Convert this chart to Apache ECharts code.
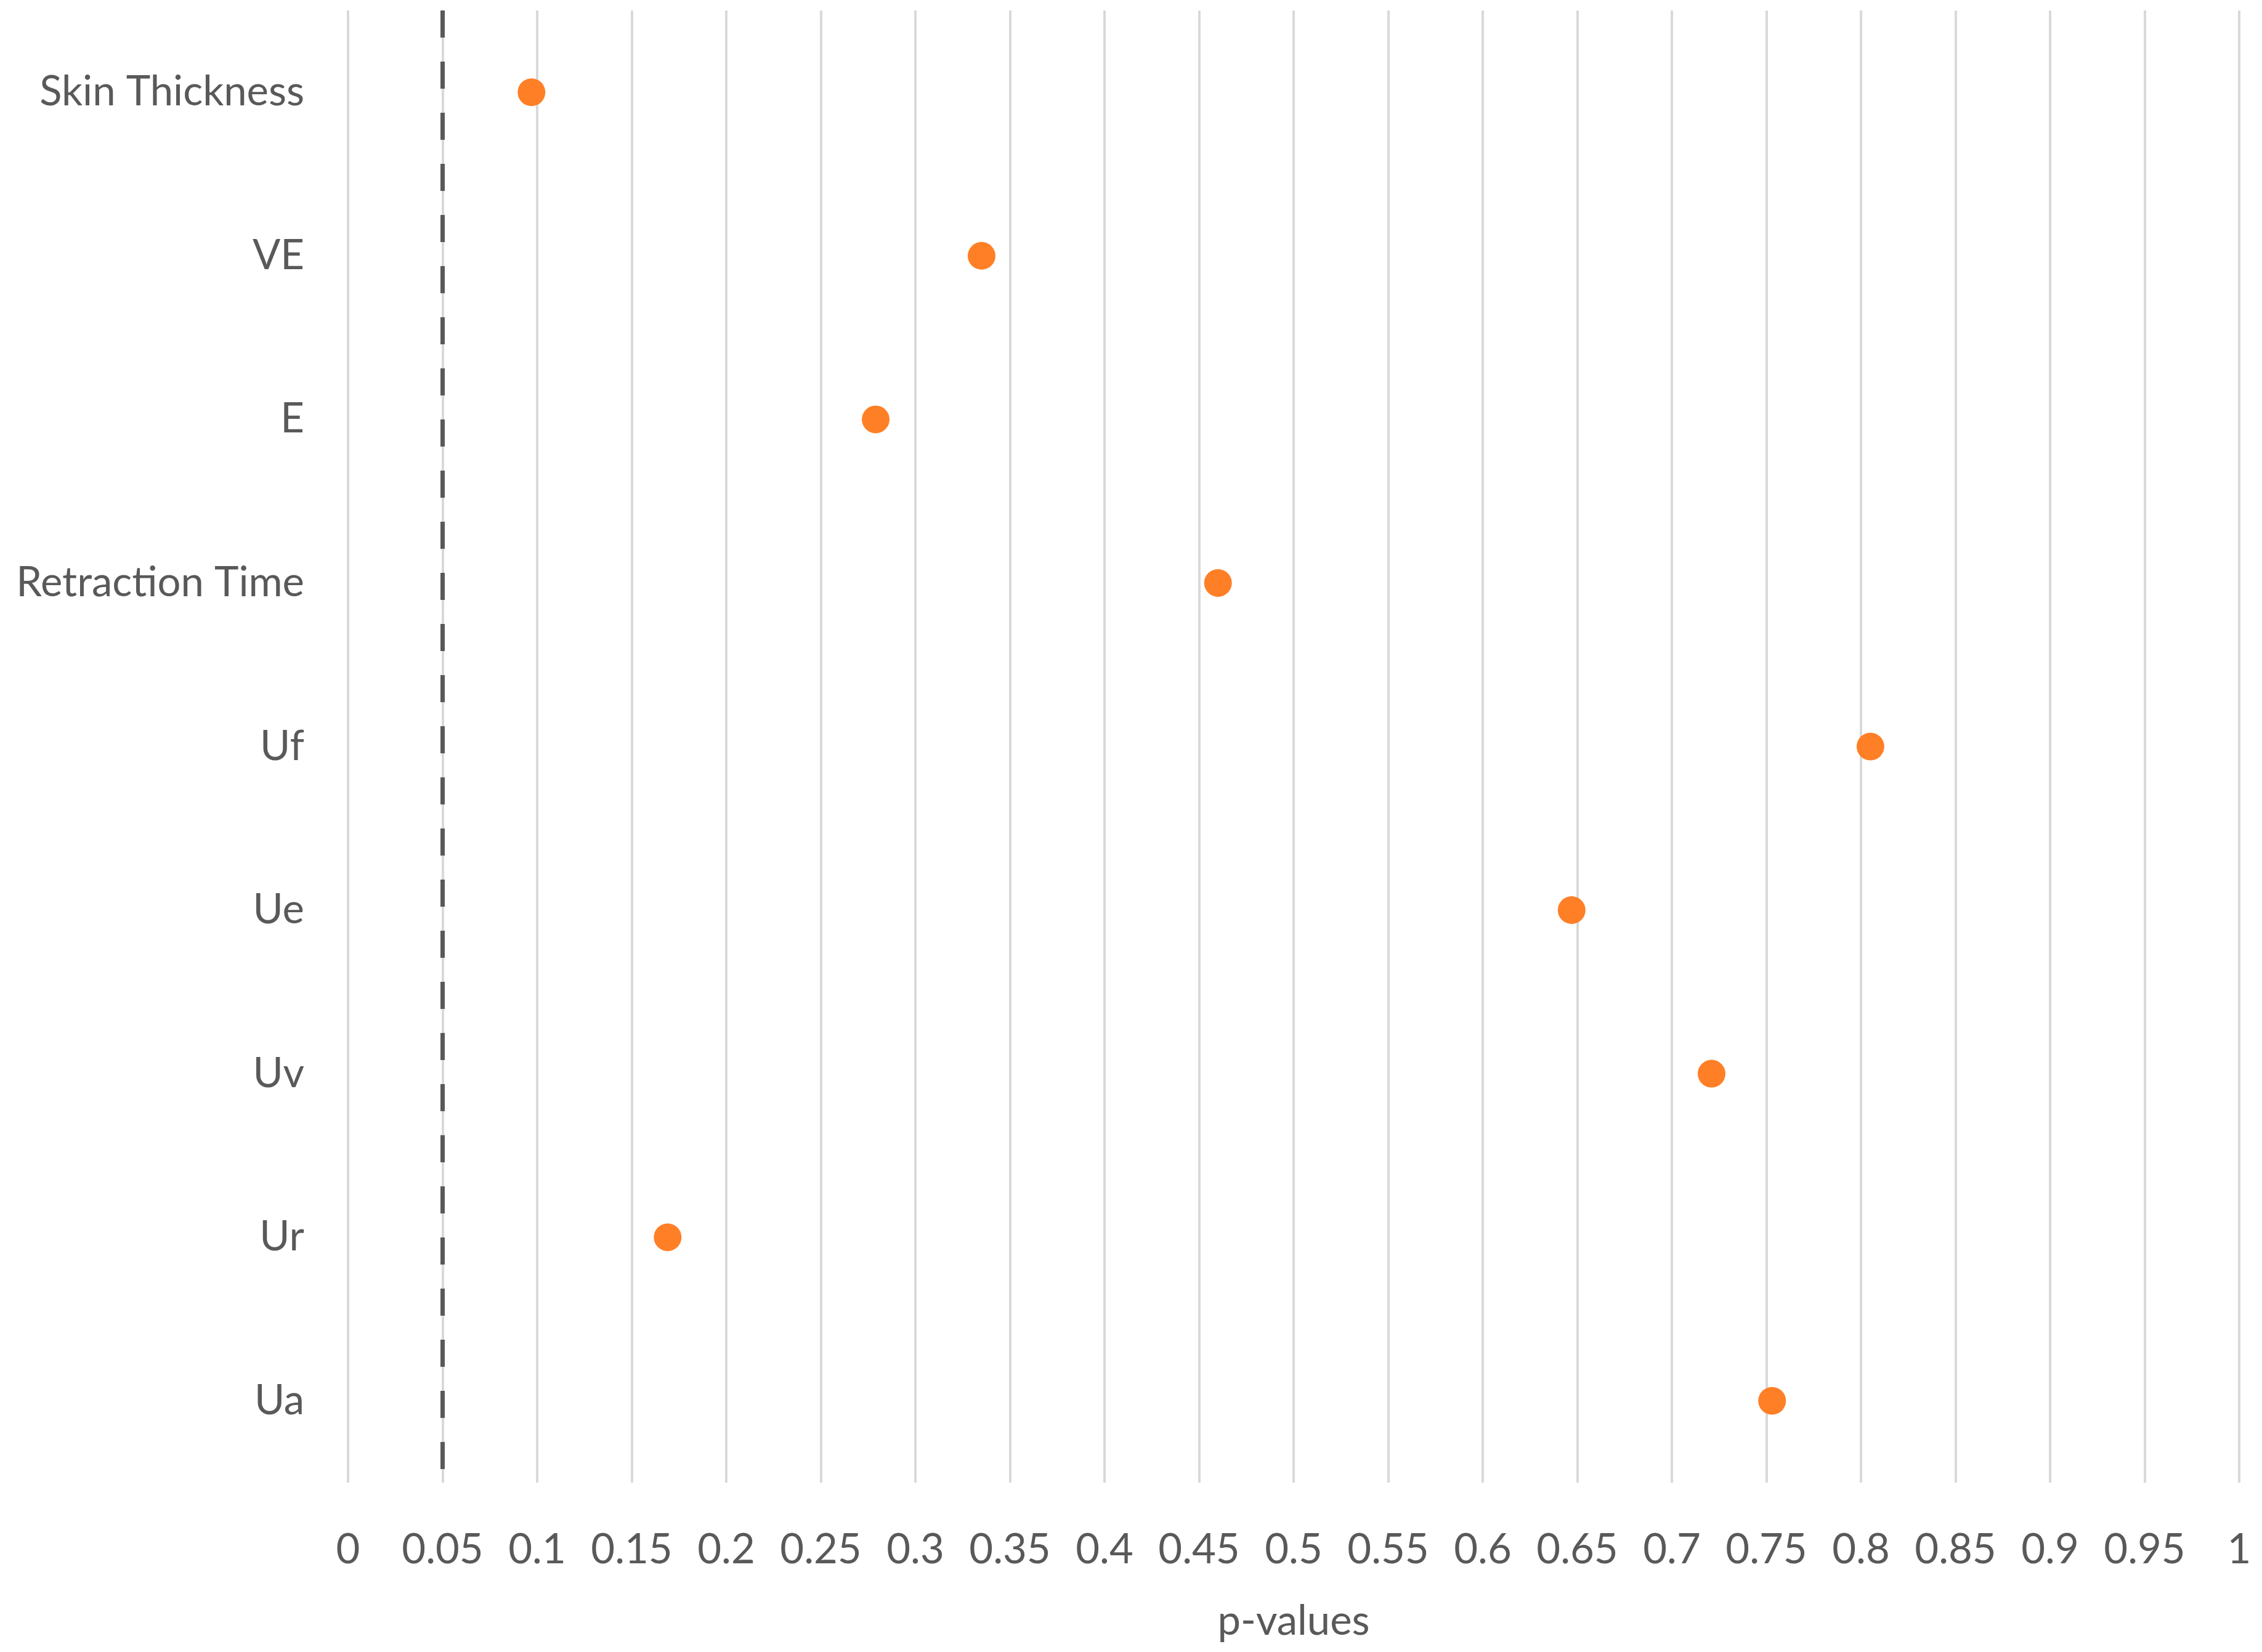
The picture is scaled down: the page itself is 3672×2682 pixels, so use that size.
<!DOCTYPE html>
<html lang="en">

<head>
    <meta charset="UTF-8">
    <title>p-values</title>
    <script type="text/javascript" src="https://cdn.jsdelivr.net/npm/echarts@6/dist/echarts.min.js"></script>
    <style>
        html, body {
            margin: 0;
            padding: 0;
            background-color: #ffffff;
            overflow: hidden;
        }
    </style>
</head>

<body>
    <div style="width: 3672px; height: 2682px" id="container"></div>
</body>
<script>
    var dom = document.getElementById("container");
    var myChart = echarts.init(dom);

    // rows, top to bottom
    let categories = ['Skin Thickness', 'VE', 'E', 'Retraction Time', 'Uf', 'Ue', 'Uv', 'Ur', 'Ua'];
    let pValues = [0.097, 0.335, 0.279, 0.46, 0.805, 0.647, 0.721, 0.169, 0.753];
    let threshold = 0.05;

    let fontFamily = '"Liberation Sans Narrow", Lato, sans-serif';
    let textColor = '#595959';

    var option = {
        backgroundColor: '#ffffff',
        animation: false,
        grid: {
            left: 565,
            right: 37,
            top: 17,
            bottom: 275
        },
        xAxis: {
            type: 'value',
            min: 0,
            max: 1,
            interval: 0.05,
            name: 'p-values',
            nameLocation: 'middle',
            nameGap: 192,
            nameTextStyle: {
                fontSize: 67,
                color: textColor,
                fontFamily: fontFamily
            },
            axisLine: { show: false },
            axisTick: { show: false },
            axisLabel: {
                fontSize: 67,
                color: textColor,
                fontFamily: fontFamily,
                margin: 76
            },
            splitLine: {
                show: true,
                lineStyle: { color: '#d9d9d9', width: 4 }
            }
        },
        yAxis: {
            type: 'category',
            inverse: true,
            data: categories,
            axisLine: { show: false },
            axisTick: { show: false },
            splitLine: { show: false },
            axisLabel: {
                fontSize: 67,
                color: textColor,
                fontFamily: fontFamily,
                margin: 71
            }
        },
        series: [{
            type: 'scatter',
            symbol: 'circle',
            symbolSize: 45,
            itemStyle: { color: '#ff7f27', opacity: 1 },
            data: pValues.map((v, i) => [v, categories[i]]),
            markLine: {
                silent: true,
                symbol: ['none', 'none'],
                label: { show: false },
                lineStyle: {
                    color: '#595959',
                    width: 7,
                    type: [44, 39]
                },
                data: [{ xAxis: threshold }]
            }
        }]
    };
    if (option && typeof option === 'object') {
        myChart.setOption(option);
    }
</script>

</html>
